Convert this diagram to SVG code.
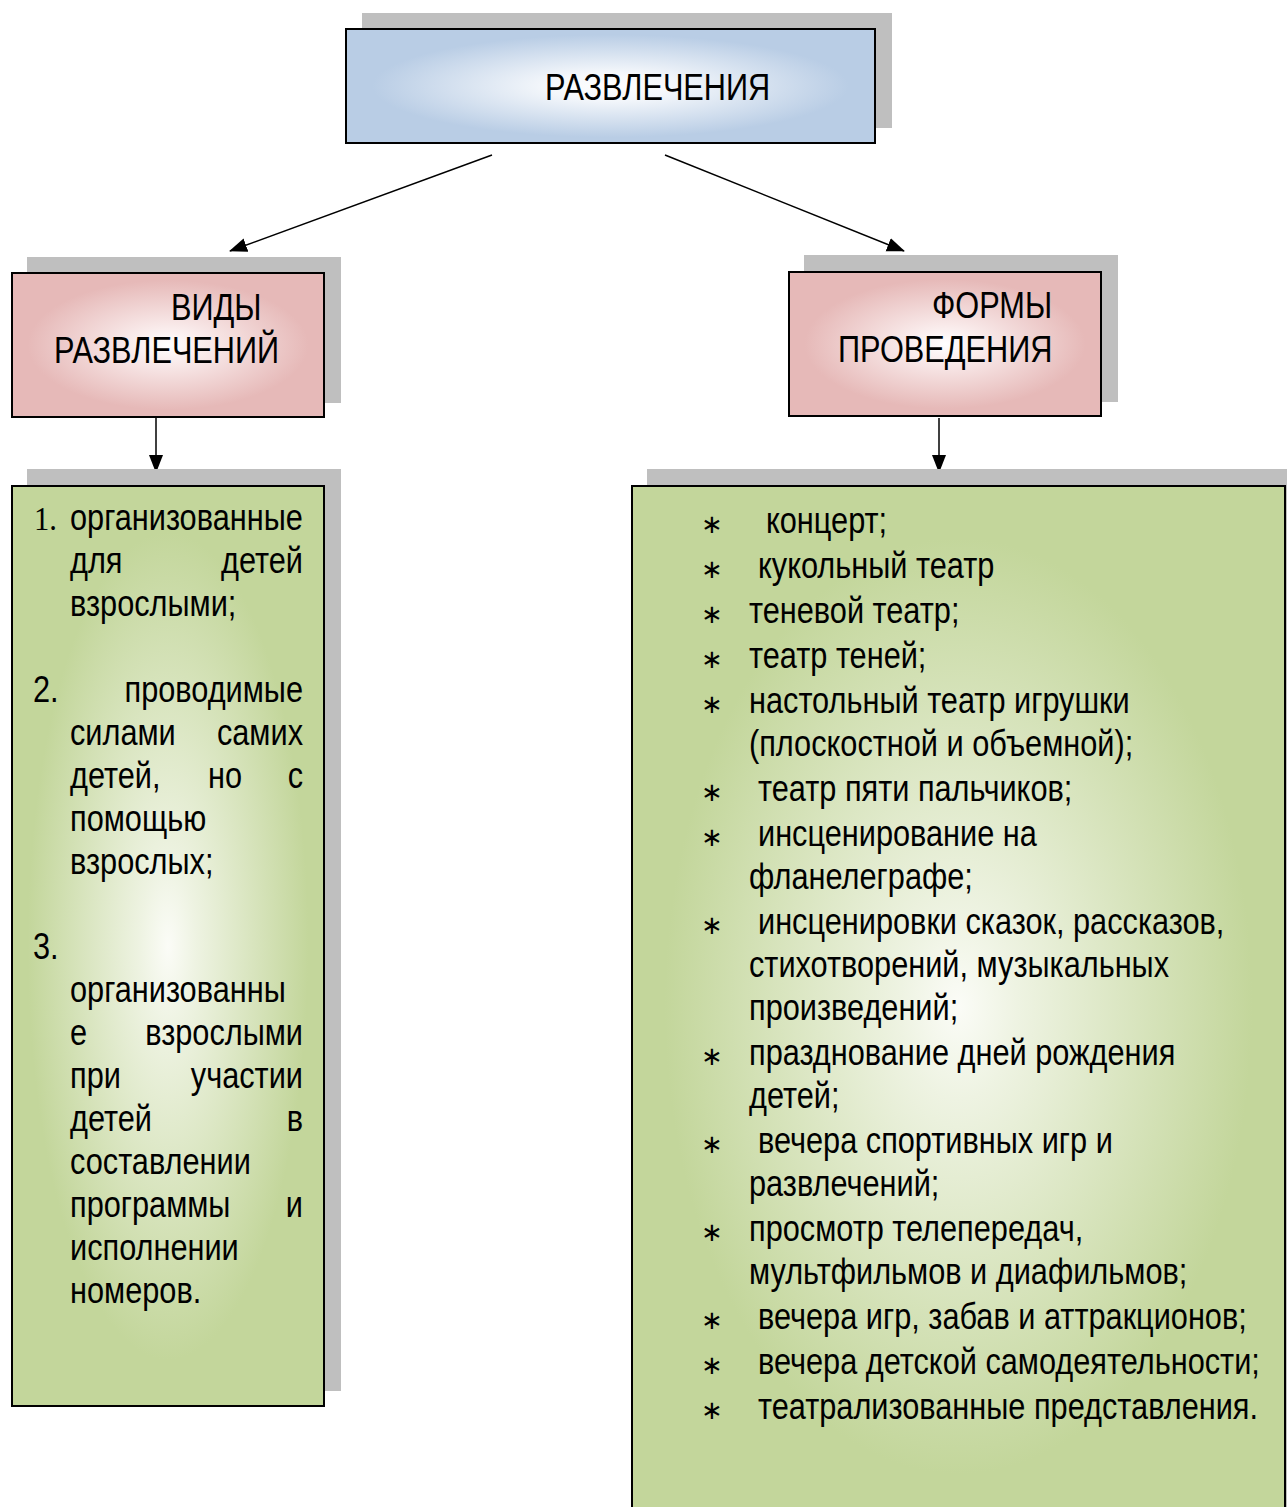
<svg xmlns="http://www.w3.org/2000/svg" width="1287" height="1507" viewBox="0 0 1287 1507">
<style>
.t{font-family:"Liberation Sans",Arial,sans-serif;font-size:37px;fill:#000}
.e{text-anchor:end}
.b{font-family:"DejaVu Sans",sans-serif;font-size:26px;fill:#000}
.sh{fill:#bfbfbf}
.bx{stroke:#000;stroke-width:2}
.ln{stroke:#000;stroke-width:1.5;fill:none;marker-end:url(#ah)}
</style>
<defs>
<radialGradient id="gBlue" cx="0.5" cy="0.5" r="0.6">
<stop offset="0" stop-color="#ffffff"/>
<stop offset="0.2" stop-color="#f4f7fb"/>
<stop offset="0.75" stop-color="#b9cde5"/>
<stop offset="1" stop-color="#b9cde5"/>
</radialGradient>
<radialGradient id="gPink" cx="0.5" cy="0.5" r="0.6">
<stop offset="0" stop-color="#ffffff"/>
<stop offset="0.15" stop-color="#fbf0f0"/>
<stop offset="0.75" stop-color="#e6b9b8"/>
<stop offset="1" stop-color="#e6b9b8"/>
</radialGradient>
<radialGradient id="gGreen" cx="0.5" cy="0.5" r="0.6">
<stop offset="0" stop-color="#fbfcf7"/>
<stop offset="0.15" stop-color="#eef3e2"/>
<stop offset="0.75" stop-color="#c3d69b"/>
<stop offset="1" stop-color="#c3d69b"/>
</radialGradient>
<marker id="ah" markerUnits="userSpaceOnUse" markerWidth="18" markerHeight="16" refX="17" refY="8" orient="auto">
<path d="M0,1 L18,8 L0,15 Z" fill="#000"/>
</marker>
</defs>

<g id="connectors">
<line class="ln" x1="492" y1="155" x2="230" y2="251"/>
<line class="ln" x1="665" y1="155" x2="904" y2="251"/>
<line class="ln" x1="156" y1="418" x2="156" y2="472"/>
<line class="ln" x1="939" y1="418" x2="939" y2="472"/>
</g>

<g id="node-root">
<rect class="sh" x="362" y="13" width="530" height="115"/>
<rect class="bx" x="346" y="29" width="529" height="114" fill="url(#gBlue)"/>
<text class="t" transform="translate(545 100) scale(0.83 1)">РАЗВЛЕЧЕНИЯ</text>
</g>

<g id="node-vidy">
<rect class="sh" x="27" y="257" width="314" height="146"/>
<rect class="bx" x="12" y="273" width="312" height="144" fill="url(#gPink)"/>
<text class="t" transform="translate(171 320) scale(0.83 1)">ВИДЫ</text>
<text class="t" transform="translate(54 363) scale(0.83 1)">РАЗВЛЕЧЕНИЙ</text>
</g>

<g id="node-formy">
<rect class="sh" x="804" y="255" width="314" height="147"/>
<rect class="bx" x="789" y="272" width="312" height="144" fill="url(#gPink)"/>
<text class="t" transform="translate(932 318) scale(0.83 1)">ФОРМЫ</text>
<text class="t" transform="translate(838 362) scale(0.83 1)">ПРОВЕДЕНИЯ</text>
</g>

<g id="node-vidy-list">
<rect class="sh" x="27" y="469" width="314" height="922"/>
<rect class="bx" x="12" y="486" width="312" height="920" fill="url(#gGreen)"/>
<text transform="translate(34 530) scale(0.9 1)" style="font-family:'Liberation Serif',serif;font-size:34px">1.</text>
<text class="t" transform="translate(70 530) scale(0.83 1)">организованные</text>
<text class="t" transform="translate(70 573) scale(0.83 1)">для</text>
<text class="t e" transform="translate(303 573) scale(0.83 1)">детей</text>
<text class="t" transform="translate(70 616) scale(0.83 1)">взрослыми;</text>
<text class="t" transform="translate(33 702) scale(0.83 1)">2.</text>
<text class="t e" transform="translate(303 702) scale(0.83 1)">проводимые</text>
<text class="t" transform="translate(70 745) scale(0.83 1)">силами</text>
<text class="t e" transform="translate(303 745) scale(0.83 1)">самих</text>
<text class="t" transform="translate(70 788) scale(0.83 1)">детей,</text>
<text class="t" transform="translate(208 788) scale(0.83 1)">но</text>
<text class="t e" transform="translate(303 788) scale(0.83 1)">с</text>
<text class="t" transform="translate(70 831) scale(0.83 1)">помощью</text>
<text class="t" transform="translate(70 874) scale(0.83 1)">взрослых;</text>
<text class="t" transform="translate(33 959) scale(0.83 1)">3.</text>
<text class="t" transform="translate(70 1002) scale(0.83 1)">организованны</text>
<text class="t" transform="translate(70 1045) scale(0.83 1)">е</text>
<text class="t e" transform="translate(303 1045) scale(0.83 1)">взрослыми</text>
<text class="t" transform="translate(70 1088) scale(0.83 1)">при</text>
<text class="t e" transform="translate(303 1088) scale(0.83 1)">участии</text>
<text class="t" transform="translate(70 1131) scale(0.83 1)">детей</text>
<text class="t e" transform="translate(303 1131) scale(0.83 1)">в</text>
<text class="t" transform="translate(70 1174) scale(0.83 1)">составлении</text>
<text class="t" transform="translate(70 1217) scale(0.83 1)">программы</text>
<text class="t e" transform="translate(303 1217) scale(0.83 1)">и</text>
<text class="t" transform="translate(70 1260) scale(0.83 1)">исполнении</text>
<text class="t" transform="translate(70 1303) scale(0.83 1)">номеров.</text>
</g>

<g id="node-formy-list">
<rect class="sh" x="647" y="469" width="645" height="1050"/>
<rect class="bx" x="632" y="486" width="653" height="1040" fill="url(#gGreen)"/>
<text class="b" x="701" y="533">∗</text><text class="t" transform="translate(766 533) scale(0.83 1)">концерт;</text>
<text class="b" x="701" y="578">∗</text><text class="t" transform="translate(758 578) scale(0.83 1)">кукольный театр</text>
<text class="b" x="701" y="623">∗</text><text class="t" transform="translate(749 623) scale(0.83 1)">теневой театр;</text>
<text class="b" x="701" y="668">∗</text><text class="t" transform="translate(749 668) scale(0.83 1)">театр теней;</text>
<text class="b" x="701" y="713">∗</text><text class="t" transform="translate(749 713) scale(0.83 1)">настольный театр игрушки</text>
<text class="t" transform="translate(749 756) scale(0.83 1)">(плоскостной и объемной);</text>
<text class="b" x="701" y="801">∗</text><text class="t" transform="translate(758 801) scale(0.83 1)">театр пяти пальчиков;</text>
<text class="b" x="701" y="846">∗</text><text class="t" transform="translate(758 846) scale(0.83 1)">инсценирование на</text>
<text class="t" transform="translate(749 889) scale(0.83 1)">фланелеграфе;</text>
<text class="b" x="701" y="934">∗</text><text class="t" transform="translate(758 934) scale(0.83 1)">инсценировки сказок, рассказов,</text>
<text class="t" transform="translate(749 977) scale(0.83 1)">стихотворений, музыкальных</text>
<text class="t" transform="translate(749 1020) scale(0.83 1)">произведений;</text>
<text class="b" x="701" y="1065">∗</text><text class="t" transform="translate(749 1065) scale(0.83 1)">празднование дней рождения</text>
<text class="t" transform="translate(749 1108) scale(0.83 1)">детей;</text>
<text class="b" x="701" y="1153">∗</text><text class="t" transform="translate(758 1153) scale(0.83 1)">вечера спортивных игр и</text>
<text class="t" transform="translate(749 1196) scale(0.83 1)">развлечений;</text>
<text class="b" x="701" y="1241">∗</text><text class="t" transform="translate(749 1241) scale(0.83 1)">просмотр телепередач,</text>
<text class="t" transform="translate(749 1284) scale(0.83 1)">мультфильмов и диафильмов;</text>
<text class="b" x="701" y="1329">∗</text><text class="t" transform="translate(758 1329) scale(0.83 1)">вечера игр, забав и аттракционов;</text>
<text class="b" x="701" y="1374">∗</text><text class="t" transform="translate(758 1374) scale(0.83 1)">вечера детской самодеятельности;</text>
<text class="b" x="701" y="1419">∗</text><text class="t" transform="translate(758 1419) scale(0.83 1)">театрализованные представления.</text>
</g>
</svg>
